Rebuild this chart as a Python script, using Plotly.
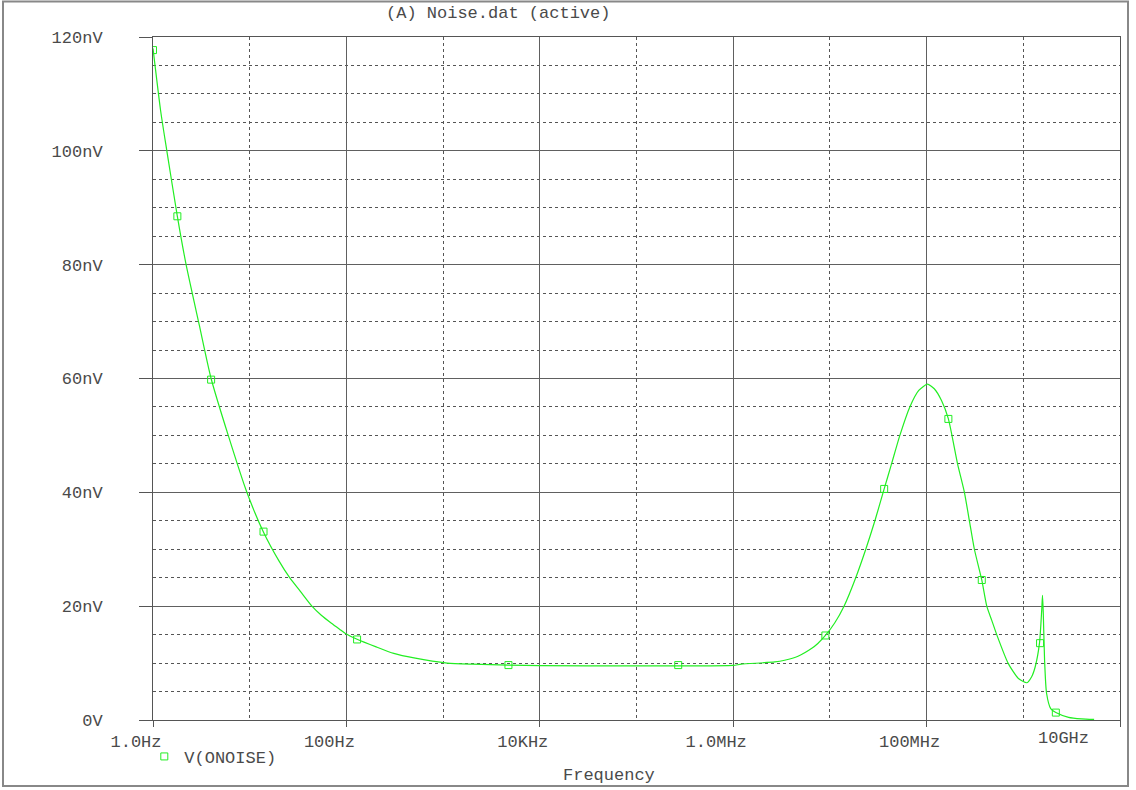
import numpy as np
import plotly.graph_objects as go

# ---- data (frequency in Hz, noise in nV) ----
curve_freq = [1.0, 1.2, 1.39, 1.786, 2.2, 3.0, 3.99, 6.0, 9.35, 13.9, 20, 25.9, 33.4, 44, 55,
              70, 85, 97.7, 129, 200, 309, 500, 1100, 2000, 4740, 1e4, 1e5, 2.7e5, 1e6, 1.21e6,
              2.69e6, 3.4e6, 4.68e6, 6.5e6, 7.5e6, 8.98e6, 1.12e7, 1.4e7, 1.85e7, 2.35e7,
              2.92e7, 3.64e7, 4.34e7, 5.29e7, 6.71e7, 8.3e7, 1.02e8, 1.2e8, 1.43e8, 1.68e8,
              2.09e8, 2.46e8, 2.77e8, 3.12e8, 3.72e8, 4.19e8, 4.72e8, 5.31e8, 7.0e8, 8.9e8,
              1.09e9, 1.22e9, 1.33e9, 1.47e9, 1.55e9, 1.58e9, 1.61e9, 1.66e9, 1.74e9, 1.92e9,
              2.17e9, 2.94e9, 4.0e9, 5.4e9]
curve_nv = [118.0, 107.0, 100.0, 88.5, 80.0, 69.5, 60.0, 50.0, 40.0, 33.0, 28.0, 25.0, 22.6, 20.0, 18.4,
            17.0, 15.95, 15.2, 14.2, 12.9, 11.7, 10.9, 10.0, 9.8, 9.65, 9.55, 9.5, 9.5, 9.6, 9.8,
            10.2, 10.5, 11.2, 12.6, 13.45, 14.85, 17.05, 20.0, 25.0, 30.0,
            35.0, 40.6, 45.0, 50.0, 55.0, 57.9, 59.0, 58.2, 56.1, 52.9,
            45.0, 40.0, 35.0, 30.0, 24.6, 20.0, 17.5, 15.0, 9.9, 7.3,
            6.55, 7.6, 9.4, 13.5, 19.3, 21.9, 18.7, 10.5, 4.7, 2.0,
            1.3, 0.47, 0.2, 0.1]

marker_freq = [1.0, 1.786, 3.99, 13.9, 129, 4740, 2.7e5, 8.98e6, 3.64e7, 1.68e8, 3.72e8, 1.49e9, 2.17e9]
marker_nv = [117.7, 88.5, 59.8, 33.1, 14.15, 9.65, 9.65, 14.85, 40.6, 52.9, 24.6, 13.5, 1.3]

x_major_vals = [1, 1e2, 1e4, 1e6, 1e8, 1e10]
x_major_text = ["1.0Hz", "100Hz", "10KHz", "1.0MHz", "100MHz", ""]
x_last_label = "10GHz"
x_minor_vals = [10, 1e3, 1e5, 1e7, 1e9]

y_major_vals = [0, 20, 40, 60, 80, 100, 120]
y_major_text = ["0V", "20nV", "40nV", "60nV", "80nV", "100nV", "120nV"]
y_minor_vals = [v for v in range(5, 120, 5) if v % 20 != 0]

series_name = "V(ONOISE)"
title_text = "(A) Noise.dat (active)"
x_title = "Frequency"

FONT = "Liberation Mono, Courier New, monospace"
TXT = "#4a4a4a"
GREEN = "#22ee22"

fig = go.Figure()
fig.add_trace(go.Scatter(x=curve_freq, y=curve_nv, mode="lines",
                         line=dict(color=GREEN, width=1.2, shape="spline", smoothing=0.6),
                         showlegend=False, hoverinfo="skip"))
fig.add_trace(go.Scatter(x=marker_freq, y=marker_nv, mode="markers", name=series_name,
                         marker=dict(symbol="square-open", size=7, color=GREEN,
                                     line=dict(width=1, color=GREEN))))

fig.update_layout(
    width=1136, height=790, autosize=False,
    margin=dict(l=153, r=16, t=37, b=70, pad=0),
    paper_bgcolor="white", plot_bgcolor="white",
    font=dict(family=FONT, size=17, color=TXT),
    showlegend=True,
    legend=dict(x=-0.009, y=-0.054, xanchor="left", yanchor="middle",
                orientation="h", bgcolor="rgba(0,0,0,0)", itemwidth=30,
                font=dict(family=FONT, size=17, color=TXT)),
)

fig.update_xaxes(
    type="log", range=[0, 10],
    tickmode="array", tickvals=x_major_vals, ticktext=x_major_text,
    ticks="outside", ticklen=6, tickcolor="#555555", tickwidth=1,
    ticklabelshift=-17,
    showgrid=True, gridcolor="#606060", gridwidth=1,
    showline=True, linecolor="#555555", linewidth=1, mirror=True,
    zeroline=False,
    tickfont=dict(family=FONT, size=17, color=TXT),
    minor=dict(tickvals=x_minor_vals, showgrid=True, griddash="dot",
               gridcolor="#555555", gridwidth=1, ticks=""),
)
fig.update_yaxes(
    range=[0, 120],
    tickmode="array", tickvals=y_major_vals, ticktext=y_major_text,
    ticks="outside", ticklen=13, tickcolor="#555555", tickwidth=1,
    ticklabelstandoff=33,
    showgrid=True, gridcolor="#606060", gridwidth=1,
    showline=True, linecolor="#555555", linewidth=1, mirror=True,
    zeroline=False,
    tickfont=dict(family=FONT, size=17, color=TXT),
    minor=dict(tickvals=y_minor_vals, showgrid=True, griddash="dot",
               gridcolor="#555555", gridwidth=1, ticks=""),
)

# last x tick label (shifted left like the original)
fig.add_annotation(x=np.log10(x_major_vals[-1]), y=0, xref="x", yref="y",
                   text=x_last_label, showarrow=False, xanchor="center", yanchor="middle",
                   xshift=-57, yshift=-18, font=dict(family=FONT, size=17, color=TXT))
# title
fig.add_annotation(x=(497.5 - 153) / 967, y=(720 - 13) / 683, xref="paper", yref="paper",
                   text=title_text, showarrow=False, xanchor="center", yanchor="middle",
                   font=dict(family=FONT, size=17, color=TXT))
# axis title
fig.add_annotation(x=(609 - 153) / 967, y=(720 - 775) / 683, xref="paper", yref="paper",
                   text=x_title, showarrow=False, xanchor="center", yanchor="middle",
                   font=dict(family=FONT, size=17, color=TXT))
# outer frame
fig.add_shape(type="rect", xref="paper", yref="paper",
              x0=(3 - 153) / 967, x1=(1128 - 153) / 967,
              y0=(720 - 786) / 683, y1=(720 - 1.5) / 683,
              line=dict(color="#888888", width=2), fillcolor="rgba(0,0,0,0)", layer="below")

fig.write_html("out.html", config={"displayModeBar": False},
               post_script="document.body.style.margin='0';document.body.style.overflow='hidden';")
